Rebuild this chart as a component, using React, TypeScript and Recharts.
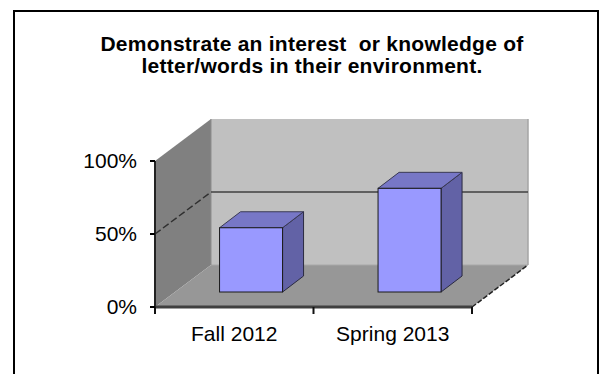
import { BarChart, Bar, XAxis, YAxis, ReferenceArea } from "recharts";

const categories = ["Fall 2012", "Spring 2013"];
const percentValues = [0.44, 0.71];
const yTicks = [0, 0.5, 1];
const titleLines = [
  "Demonstrate an interest  or knowledge of",
  "letter/words in their environment.",
];

const data = categories.map((name, i) => ({ name, value: percentValues[i] }));

const FONT = "'Liberation Sans', Arial, sans-serif";
// depth of the 3D box and of a single bar
const WALL_DX = 56;
const WALL_DY = -42;
const BAR_SHIFT_X = 17;
const BAR_SHIFT_Y = -15;
const BAR_DX = 21;
const BAR_DY = -16;

const pts = (list: number[][]) => list.map((p) => p.join(",")).join(" ");

// back wall, side wall, floor and gridline drawn around the plot rect
function Walls(props: any) {
  const { x, y, width: w, height: h } = props;
  const b = y + h;
  const mid = y + h / 2;
  return (
    <g>
      <rect x={x + WALL_DX} y={y + WALL_DY} width={w} height={h} fill="#c0c0c0" />
      <polygon
        points={pts([
          [x, b],
          [x, y],
          [x + WALL_DX, y + WALL_DY],
          [x + WALL_DX, b + WALL_DY],
        ])}
        fill="#808080"
      />
      <polygon
        points={pts([
          [x, b],
          [x + WALL_DX, b + WALL_DY],
          [x + w + WALL_DX, b + WALL_DY],
          [x + w, b],
        ])}
        fill="#979797"
      />
      <line x1={x + WALL_DX} y1={b + WALL_DY} x2={x + w + WALL_DX} y2={b + WALL_DY} stroke="#a8a8a8" />
      <line x1={x + w + WALL_DX} y1={y + WALL_DY} x2={x + w + WALL_DX} y2={b + WALL_DY} stroke="#a4a4a4" strokeWidth={1.5} />
      <line x1={x + WALL_DX} y1={y + WALL_DY} x2={x + WALL_DX} y2={b + WALL_DY} stroke="#8c8c8c" />
      {/* 50% gridline */}
      <line x1={x + WALL_DX} y1={mid + WALL_DY} x2={x + w + WALL_DX} y2={mid + WALL_DY} stroke="#404040" strokeWidth={1.5} />
      <line x1={x} y1={mid} x2={x + WALL_DX} y2={mid + WALL_DY} stroke="#303030" strokeWidth={1.5} strokeDasharray="7 3" />
      {/* floor edges */}
      <line x1={x} y1={b} x2={x + w} y2={b} stroke="#404040" strokeWidth={3} />
      <line x1={x + w} y1={b} x2={x + w + WALL_DX} y2={b + WALL_DY} stroke="#222" strokeWidth={1.5} strokeDasharray="5 2" />
      {/* category boundary ticks */}
      {[0, 0.5, 1].map((f) => (
        <line key={f} x1={x + w * f} y1={b} x2={x + w * f} y2={b + 7} stroke="#111" strokeWidth={2} />
      ))}
    </g>
  );
}

function Bar3D(props: any) {
  const { x, y, width: w, height: h } = props;
  const fx = x + BAR_SHIFT_X;
  const fy = y + BAR_SHIFT_Y;
  return (
    <g>
      <polygon
        points={pts([
          [fx + w, fy],
          [fx + w + BAR_DX, fy + BAR_DY],
          [fx + w + BAR_DX, fy + h + BAR_DY],
          [fx + w, fy + h],
        ])}
        fill="#6262a6"
        stroke="#2a2a40"
        strokeWidth={1}
      />
      <polygon
        points={pts([
          [fx, fy],
          [fx + BAR_DX, fy + BAR_DY],
          [fx + w + BAR_DX, fy + BAR_DY],
          [fx + w, fy],
        ])}
        fill="#7777c6"
        stroke="#3a3a55"
        strokeWidth={1}
      />
      <rect x={fx} y={fy} width={w} height={h} fill="#9999ff" stroke="#1a1a1a" strokeWidth={1} />
    </g>
  );
}

export default function App() {
  return (
    <div style={{ position: "fixed", left: 0, top: 0, width: 606, height: 374, background: "#fff" }}>
      <svg width={606} height={374} style={{ position: "absolute", left: 0, top: 0 }}>
        <path d="M14,374 V11 H598 V374" fill="none" stroke="#000" strokeWidth={2} />
        {titleLines.map((t, i) => (
          <text
            key={i}
            x={312}
            y={51 + i * 22}
            textAnchor="middle"
            fontFamily={FONT}
            fontWeight="bold"
            fontSize={21}
            letterSpacing={0.25}
            fill="#000"
            style={{ whiteSpace: "pre" }}
          >
            {t}
          </text>
        ))}
      </svg>
      <div style={{ position: "absolute", left: 0, top: 0 }}>
        <BarChart
          width={606}
          height={374}
          data={data}
          margin={{ top: 161, right: 134, bottom: 37, left: 95 }}
          barCategoryGap="30%"
        >
          <XAxis
            dataKey="name"
            height={30}
            axisLine={false}
            tickLine={false}
            tickSize={0}
            tickMargin={19}
            tick={{ fill: "#000", fontSize: 21, fontFamily: FONT }}
          />
          <YAxis
            width={60}
            domain={[0, 1]}
            ticks={yTicks}
            tickFormatter={(v: number) => `${Math.round(v * 100)}%`}
            axisLine={{ stroke: "#222", strokeWidth: 2 }}
            tickLine={{ stroke: "#000", strokeWidth: 2 }}
            tickSize={5}
            tickMargin={13}
            tick={{ fill: "#000", fontSize: 21, fontFamily: FONT }}
          />
          <ReferenceArea y1={0} y2={1} ifOverflow="visible" shape={<Walls />} />
          <Bar dataKey="value" shape={<Bar3D />} isAnimationActive={false} />
        </BarChart>
      </div>
    </div>
  );
}
